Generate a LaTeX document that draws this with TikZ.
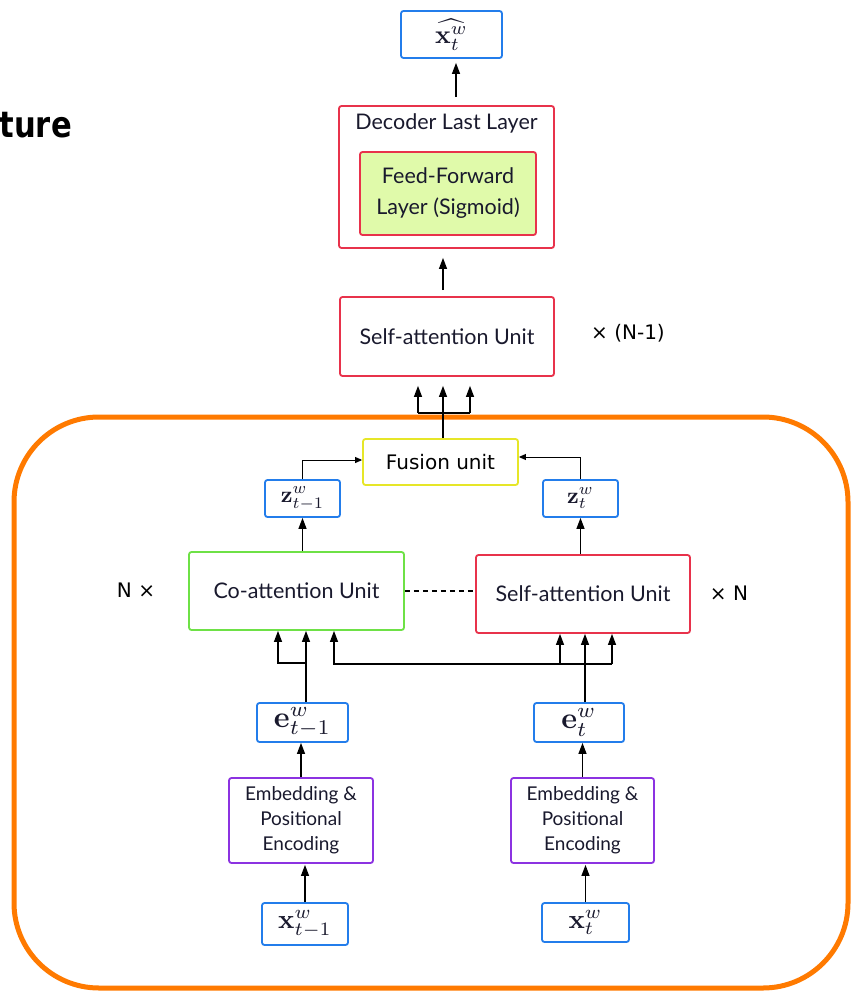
\documentclass[tikz,border=0pt]{standalone}
\usepackage{graphicx}
\usepackage[no-math]{fontspec}
\setmainfont{Lato}
\newfontfamily\labelfont{DejaVu Sans}
\usetikzlibrary{arrows.meta}

\definecolor{boxblue}{RGB}{35,125,235}
\definecolor{boxred}{RGB}{232,50,75}
\definecolor{boxgreen}{RGB}{110,225,70}
\definecolor{boxyellow}{RGB}{230,230,40}
\definecolor{boxpurple}{RGB}{140,50,225}
\definecolor{ffill}{RGB}{224,250,170}
\definecolor{frameorange}{RGB}{255,122,0}
\definecolor{inktext}{RGB}{25,25,45}

% vector symbols, set at 10pt and enlarged
\newcommand{\bigvec}[2]{\scalebox{#1}{$#2$}}

\begin{document}
\begin{tikzpicture}[x=1pt,y=-1pt,
  box/.style={draw, line width=1.8pt, rounded corners=2.5pt, inner sep=0pt, align=center, text=inktext},
  vecbox/.style={box, draw=boxblue, font=\fontsize{10}{12}\selectfont},
  redbox/.style={box, draw=boxred},
  unittext/.style={font=\fontsize{21.5}{31}\selectfont},
  embtext/.style={font=\fontsize{19}{25}\selectfont},
  repeatlabel/.style={font=\labelfont\fontsize{20}{24}\selectfont, text=black, inner sep=0pt},
  wire/.style={line width=1.2pt},
  arr/.style={wire, -{Triangle[length=11pt,width=8pt]}},
  smallarr/.style={line width=0.9pt, -{Triangle[length=7pt,width=6pt]}},
]
\useasboundingbox (0,0) rectangle (852,992);

% heading fragment
\node[font=\labelfont\bfseries\fontsize{36}{40}\selectfont, anchor=base east, inner sep=0pt, xscale=0.85] (ttl) at (72,138) {ture};

% encoder group frame
\node[draw=frameorange, line width=5pt, rounded corners=85pt, minimum width=834pt, minimum height=571pt, inner sep=0pt] (grp) at (431,702.5) {};

% decoder side
\node[vecbox, minimum width=101pt, minimum height=47pt] (out) at (451.5,34.5) {\bigvec{2.6}{\widehat{\mathbf{x}_t^w}}};
\node[redbox, minimum width=215pt, minimum height=142pt] (dec) at (446.5,177) {};
\node[unittext, text=inktext, inner sep=0pt] (dect) at (446.5,123) {Decoder Last Layer};
\node[redbox, fill=ffill, minimum width=176pt, minimum height=83pt, unittext] (ff) at (448,193.5) {Feed-Forward\\Layer (Sigmoid)};
\node[redbox, minimum width=214pt, minimum height=79pt, unittext] (sa1) at (447,336.5) {Self-attention Unit};
\node[repeatlabel] (nm1) at (628,333) {× (N-1)};

% fusion and encoder outputs
\node[box, draw=boxyellow, minimum width=155pt, minimum height=46pt, font=\labelfont\fontsize{20}{24}\selectfont, text=black] (fus) at (440.5,462) {Fusion unit};
\node[vecbox, minimum width=75pt, minimum height=37pt] (zl) at (302.5,498.5) {\bigvec{2.3}{\mathbf{z}_{t-1}^w}};
\node[vecbox, minimum width=75pt, minimum height=37pt] (zr) at (580.5,498.5) {\bigvec{2.3}{\mathbf{z}_{t}^w}};

% attention units
\node[box, draw=boxgreen, minimum width=215pt, minimum height=78pt, unittext] (co) at (296.5,591) {Co-attention Unit};
\node[redbox, minimum width=214pt, minimum height=78pt, unittext] (sa2) at (583,594) {Self-attention Unit};
\node[repeatlabel] (nl) at (136,590) {N ×};
\node[repeatlabel] (nr) at (729,593) {× N};

% embeddings and inputs
\node[vecbox, minimum width=91pt, minimum height=39pt] (el) at (302.5,722.5) {\bigvec{3}{\mathbf{e}_{t-1}^w}};
\node[vecbox, minimum width=90pt, minimum height=39pt] (er) at (579,722.5) {\bigvec{3}{\mathbf{e}_{t}^w}};
\node[box, draw=boxpurple, minimum width=144pt, minimum height=85pt, embtext] (embl) at (301,820.5) {Embedding \&\\Positional\\Encoding};
\node[box, draw=boxpurple, minimum width=143pt, minimum height=85pt, embtext] (embr) at (582.5,820.5) {Embedding \&\\Positional\\Encoding};
\node[vecbox, minimum width=86pt, minimum height=42pt] (xl) at (305,924) {\bigvec{2.7}{\mathbf{x}_{t-1}^w}};
\node[vecbox, minimum width=87pt, minimum height=39pt] (xr) at (585.5,922.5) {\bigvec{2.7}{\mathbf{x}_{t}^w}};

% junction points of the wiring
\coordinate (fj) at (443,413);
\coordinate (fjl) at (418,413);
\coordinate (fjr) at (470,413);
\coordinate (jl) at (306,663);
\coordinate (bl) at (278,663);
\coordinate (jr) at (585,664);
\coordinate (bm) at (334,664);
\coordinate (br1) at (560,664);
\coordinate (br3) at (612,664);
\coordinate (outx) at (456,0);

% decoder connections
\draw[arr, shorten <=8pt, shorten >=4pt] (dec.north -| outx) -- (out.south -| outx);
\draw[arr, shorten <=6pt, shorten >=9pt] (sa1.north -| fj) -- (dec.south -| fj);
\draw[wire] (fus.north -| fj) -- (fj);
\draw[wire] (fjl) -- (fjr);
\draw[arr, shorten >=9pt] (fjl) -- (fjl |- sa1.south);
\draw[arr, shorten >=9pt] (fj) -- (fj |- sa1.south);
\draw[arr, shorten >=9pt] (fjr) -- (fjr |- sa1.south);

% into the fusion unit
\draw[smallarr] (zl.north) |- ([yshift=2pt]fus.west);
\draw[smallarr] (zr.north) |- ([yshift=5pt]fus.east);
\draw[arr] (co.north -| zl.south) -- (zl.south);
\draw[arr] (sa2.north -| zr.south) -- (zr.south);
\draw[wire, dash pattern=on 5pt off 4pt] (co.east) -- (co.east -| sa2.west);

% inputs of the attention units
\draw[arr] (el.north -| jl) -- (jl |- co.south);
\draw[arr] (jl) -- (bl) -- (bl |- co.south);
\draw[arr] (er.north -| jr) -- (jr |- sa2.south);
\draw[arr] (br3) -- (bm) -- (bm |- co.south);
\draw[arr] (br1) -- (br1 |- sa2.south);
\draw[arr] (br3) -- (br3 |- sa2.south);

% embedding stacks
\draw[arr] (embl.north) -- (embl.north |- el.south);
\draw[arr] (embr.north) -- (embr.north |- er.south);
\draw[arr, shorten >=1pt] (xl.north) -- (xl.north |- embl.south);
\draw[arr, shorten >=1pt] (xr.north) -- (xr.north |- embr.south);
\end{tikzpicture}
\end{document}
